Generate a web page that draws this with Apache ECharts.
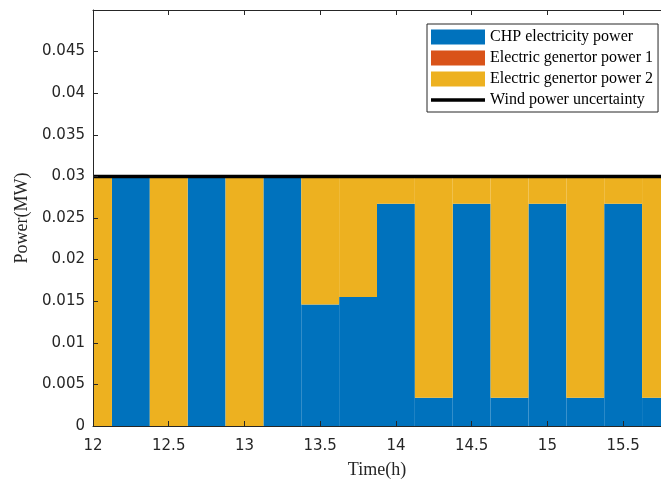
<!DOCTYPE html>
<html><head><meta charset="utf-8">
<script src="https://cdn.jsdelivr.net/npm/echarts@6/dist/echarts.min.js"></script>
<style>html,body{margin:0;padding:0;background:#fff}#c{width:661px;height:484px}</style>
</head><body><div id="c"></div>
<script>
const times = [12, 12.25, 12.5, 12.75, 13, 13.25, 13.5, 13.75, 14, 14.25, 14.5, 14.75, 15, 15.25, 15.5, 15.75];
const chpPower  = [0, 0.03, 0, 0.03, 0, 0.03, 0.0146, 0.0155, 0.0267, 0.0034, 0.0267, 0.0034, 0.0267, 0.0034, 0.0267, 0.0034];
const gen1Power = [0, 0, 0, 0, 0, 0, 0, 0, 0, 0, 0, 0, 0, 0, 0, 0];
const gen2Power = [0.03, 0, 0.03, 0, 0.03, 0, 0.0154, 0.0145, 0.0033, 0.0266, 0.0033, 0.0266, 0.0033, 0.0266, 0.0033, 0.0266];
const windUncertainty = [0.03, 0.03, 0.03, 0.03, 0.03, 0.03, 0.03, 0.03, 0.03, 0.03, 0.03, 0.03, 0.03, 0.03, 0.03, 0.03];
const seriesNames = ['CHP electricity power', 'Electric genertor power 1', 'Electric genertor power 2', 'Wind power uncertainty'];
const xTickMin = 12, xTickMax = 15.75, xTickStep = 0.5;
const yTickMin = 0, yTickMax = 0.05, yTickStep = 0.005;

const colors = ['#0072BD', '#D95319', '#EDB120'];
const slotWidth = 0.25;
const axisColor = '#262626';

const stacks = [chpPower, gen1Power, gen2Power];
const base = times.map(() => 0);
const stackedData = stacks.map(arr => arr.map((v, i) => {
  const lo = base[i]; const hi = lo + v; base[i] = hi;
  return [times[i], lo, hi];
}));

function renderBar(params, api) {
  const x = api.value(0), lo = api.value(1), hi = api.value(2);
  if (hi - lo <= 0) return null;
  const p1 = api.coord([x - slotWidth / 2, hi]);
  const p2 = api.coord([x + slotWidth / 2, lo]);
  const cs = params.coordSys;
  const r = echarts.graphic.clipRectByRect(
    {x: p1[0], y: p1[1], width: p2[0] - p1[0], height: p2[1] - p1[1]},
    {x: cs.x, y: cs.y, width: cs.width, height: cs.height});
  if (!r) return null;
  return {type: 'rect', shape: r, style: api.style()};
}

const chart = echarts.init(document.getElementById('c'), null, {renderer: 'canvas'});
const serif = 'Liberation Serif';
const sans = 'DejaVu Sans';
const lineIcon = 'path://M0 0H0.01V0.01H0ZM0 5.75H54V9.25H0ZM0 14.99H0.01V15H0Z';
chart.setOption({
  animation: false,
  backgroundColor: '#fff',
  grid: {left: 93, right: -11, top: 10, bottom: 54, containLabel: false},
  legend: {
    orient: 'vertical', left: 427, top: 24,
    itemWidth: 54, itemHeight: 15, itemGap: 5,
    padding: [5, 5, 4, 4],
    backgroundColor: '#fff', borderColor: axisColor, borderWidth: 1,
    textStyle: {fontFamily: serif, fontSize: 16, color: '#000'},
    data: [
      {name: seriesNames[0], icon: 'rect'},
      {name: seriesNames[1], icon: 'rect'},
      {name: seriesNames[2], icon: 'rect'},
      {name: seriesNames[3], icon: lineIcon, itemStyle: {color: '#000'}}
    ]
  },
  xAxis: [{
    type: 'value', min: xTickMin, max: xTickMax, interval: xTickStep, z: 5,
    name: 'Time(h)', nameLocation: 'middle', nameGap: 35,
    nameTextStyle: {fontFamily: serif, fontSize: 18, color: axisColor},
    axisLine: {show: true, onZero: false, lineStyle: {color: axisColor, width: 1}},
    axisTick: {show: true, inside: true, length: 5, lineStyle: {color: axisColor}},
    axisLabel: {fontFamily: sans, fontSize: 15, color: axisColor, margin: 13, showMaxLabel: false},
    splitLine: {show: false}
  }, {
    type: 'value', position: 'top', min: xTickMin, max: xTickMax, interval: xTickStep, z: 5,
    axisLine: {show: true, onZero: false, lineStyle: {color: axisColor, width: 1}},
    axisTick: {show: true, inside: true, length: 5, lineStyle: {color: axisColor}},
    axisLabel: {show: false}, splitLine: {show: false}
  }],
  yAxis: {
    type: 'value', min: yTickMin, max: yTickMax, interval: yTickStep, z: 5,
    name: 'Power(MW)', nameLocation: 'middle', nameGap: 50, nameRotate: 90,
    nameTextStyle: {fontFamily: serif, fontSize: 18, color: axisColor},
    axisLine: {show: true, onZero: false, lineStyle: {color: axisColor, width: 1}},
    axisTick: {show: true, inside: true, length: 5, lineStyle: {color: axisColor}},
    axisLabel: {fontFamily: sans, fontSize: 15, color: axisColor, margin: 8, showMaxLabel: false},
    splitLine: {show: false}
  },
  series: [
    {type: 'custom', name: seriesNames[0], renderItem: renderBar, data: stackedData[0], itemStyle: {color: colors[0]}, encode: {x: 0, y: [1, 2]}, z: 2},
    {type: 'custom', name: seriesNames[1], renderItem: renderBar, data: stackedData[1], itemStyle: {color: colors[1]}, encode: {x: 0, y: [1, 2]}, z: 2},
    {type: 'custom', name: seriesNames[2], renderItem: renderBar, data: stackedData[2], itemStyle: {color: colors[2]}, encode: {x: 0, y: [1, 2]}, z: 2},
    {type: 'line', name: seriesNames[3], data: times.map((t, i) => [t, windUncertainty[i]]),
     symbol: 'none', lineStyle: {color: '#000', width: 3.5}, itemStyle: {color: '#000'}, z: 3}
  ]
});
</script></body></html>
